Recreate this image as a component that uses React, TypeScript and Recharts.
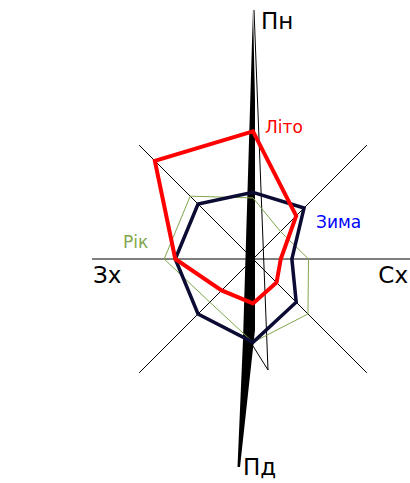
import React from "react"
import {
  RadarChart,
  Radar,
  PolarGrid,
  PolarAngleAxis,
  PolarRadiusAxis,
  Customized,
} from "recharts"

// вітрові напрямки, % повторюваності
const directions = ["Пн", "ПнСх", "Сх", "ПдСх", "Пд", "ПдЗх", "Зх", "ПнЗх"]
const summer = [23, 11, 5, 6, 8, 8, 14, 25]
const winter = [12, 13, 7, 11, 15, 14, 14, 14]
const year = [11, 7, 10, 14, 15, 11, 16, 16]
const compassLabels = ["Пн", "Сх", "Пд", "Зх"]

const data = directions.map((d, i) => ({
  dir: d,
  summer: summer[i],
  winter: winter[i],
  year: year[i],
}))

const CX = 253
const CY = 259
const R = 161

const pt = (dx: number, dy: number) => `${CX + dx},${CY + dy}`

function Compass() {
  const labelStyle = {
    fontFamily: "'DejaVu Sans', sans-serif",
    fontWeight: 400,
    fontSize: 23,
    fill: "#000",
  } as const
  return (
    <g>
      <polygon
        points={[pt(0, -250), pt(2, -159), pt(2, 71), pt(-13, 208), pt(-15.5, 208), pt(-10, 81)].join(" ")}
        fill="#000"
      />
      <polyline
        points={[pt(1, -249), pt(15, 111), pt(0, 87)].join(" ")}
        fill="none"
        stroke="#000"
        strokeWidth={1}
      />
      <text x={CX + 8} y={CY - 230} {...labelStyle}>{compassLabels[0]}</text>
      <text x={CX + 155} y={CY + 24} textAnchor="end" {...labelStyle}>{compassLabels[1]}</text>
      <text x={CX - 10} y={CY + 216} {...labelStyle}>{compassLabels[2]}</text>
      <text x={CX - 160} y={CY + 24} {...labelStyle}>{compassLabels[3]}</text>
    </g>
  )
}

const seriesLabel =
  (text: string, color: string, idx: number, dx: number, dy: number, anchor: "start" | "end") =>
  (props: any) => {
    const x = props.x ?? props.viewBox?.x
    const y = props.y ?? props.viewBox?.y
    if (props.index !== idx || x == null) return <g key={`l-${text}-${props.index}`} />
    return (
      <text
        key={`l-${text}`}
        x={x + dx}
        y={y + dy}
        textAnchor={anchor}
        fill={color}
        fontFamily="'DejaVu Sans', sans-serif"
        fontSize={17}
      >
        {text}
      </text>
    )
  }

export default function App() {
  return (
    <div style={{ position: "absolute", left: 0, top: 0, width: 410, height: 483, background: "#fff" }}>
      <RadarChart
        width={410}
        height={483}
        data={data}
        cx={CX}
        cy={CY}
        outerRadius={R}
        margin={{ top: 0, right: 0, bottom: 0, left: 0 }}
      >
        <PolarGrid
          polarRadius={[]}
          polarAngles={[0, 45, 135, 180, 225, 315]}
          stroke="#000"
          strokeOpacity={1}
          strokeWidth={1}
        />
        <PolarAngleAxis dataKey="dir" tick={false} axisLine={false} tickLine={false} />
        <PolarRadiusAxis domain={[0, 28.5]} tick={false} axisLine={false} tickLine={false} />
        <Customized component={<Compass />} />
        <Radar
          dataKey="year"
          stroke="#7fa64c"
          strokeWidth={1}
          fill="none"
          fillOpacity={0}
          dot={false}
          isAnimationActive={false}
          label={seriesLabel("Рік", "#7fa64c", 6, -16, -11, "end")}
        />
        <Radar
          dataKey="winter"
          stroke="#0b0b33"
          strokeWidth={3.5}
          fill="none"
          fillOpacity={0}
          dot={false}
          isAnimationActive={false}
          label={seriesLabel("Зима", "#0000ff", 1, 12, 20, "start")}
        />
        <Radar
          dataKey="summer"
          stroke="#ff0000"
          strokeWidth={4}
          fill="none"
          fillOpacity={0}
          dot={false}
          isAnimationActive={false}
          label={seriesLabel("Літо", "#ff0000", 0, 12, 2, "start")}
        />
      </RadarChart>
    </div>
  )
}
